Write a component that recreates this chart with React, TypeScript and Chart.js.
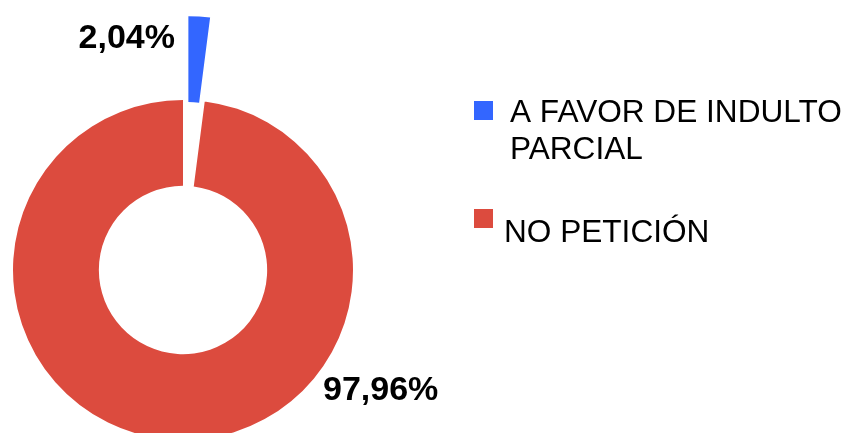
import React, { useEffect, useRef } from "react";
import { Chart, registerables } from "chart.js";

Chart.register(...registerables);

const categories: string[][] = [["A FAVOR DE INDULTO", "PARCIAL"], ["NO PETICIÓN"]];
const values: number[] = [2.04, 97.96];
const colors: string[] = ["#3366FF", "#DC4B3E"];
const explode: number[] = [84, 0];

const FONT = '"Liberation Sans", Arial, Helvetica, sans-serif';

const fmtPct = (v: number, total: number) =>
  ((v / total) * 100).toFixed(2).replace(".", ",") + "%";

// Pull exploded slices outward along their mid angle (pure translation, keeps slice width)
const explodePlugin = {
  id: "explode",
  afterUpdate(chart: any) {
    const meta = chart.getDatasetMeta(0);
    meta.data.forEach((arc: any, i: number) => {
      const d = explode[i] || 0;
      if (!d) return;
      const mid = (arc.startAngle + arc.endAngle) / 2;
      arc.x += Math.cos(mid) * d;
      arc.y += Math.sin(mid) * d;
    });
  },
};

const overlayPlugin = {
  id: "overlay",
  afterDraw(chart: any) {
    const ctx = chart.ctx as CanvasRenderingContext2D;
    const meta = chart.getDatasetMeta(0);
    const total = values.reduce((a, b) => a + b, 0);
    const base = meta.data[1];
    const cx = base.x;
    const cy = base.y;
    ctx.save();
    ctx.fillStyle = "#000";
    ctx.font = `bold 34px ${FONT}`;
    ctx.textBaseline = "alphabetic";
    ctx.textAlign = "right";
    ctx.fillText(fmtPct(values[0], total), cx - 8, cy - 222);
    ctx.textAlign = "left";
    ctx.fillText(fmtPct(values[1], total), cx + 140, cy + 130);

    // legend
    ctx.font = `31.6px ${FONT}`;
    ctx.textAlign = "left";
    ctx.fillStyle = colors[0];
    ctx.fillRect(474, 101, 19, 19);
    ctx.fillStyle = "#000";
    ctx.fillText(categories[0][0], 510, 122);
    ctx.fillText(categories[0][1], 510, 159);
    ctx.fillStyle = colors[1];
    ctx.fillRect(474, 209, 19, 19);
    ctx.fillStyle = "#000";
    ctx.fillText(categories[1][0], 504, 242);
    ctx.restore();
  },
};

export default function App() {
  const ref = useRef<HTMLCanvasElement | null>(null);
  useEffect(() => {
    if (!ref.current) return;
    const chart = new Chart(ref.current, {
      type: "doughnut",
      data: {
        labels: categories.map((c) => c.join(" ")),
        datasets: [
          {
            data: values,
            backgroundColor: colors,
            borderWidth: 0,
            clip: false as any,
          } as any,
        ],
      },
      options: {
        responsive: false,
        animation: false,
        devicePixelRatio: 1,
        events: [],
        radius: 170,
        cutout: "49.5%",
        layout: { padding: { left: 0, right: 489, top: 107, bottom: 0 } },
        plugins: {
          legend: { display: false },
          tooltip: { enabled: false },
        },
      } as any,
      plugins: [explodePlugin, overlayPlugin],
    });
    return () => chart.destroy();
  }, []);
  return (
    <div style={{ position: "absolute", left: 0, top: 0, width: 855, height: 433, background: "#fff" }}>
      <canvas ref={ref} width={855} height={433} style={{ display: "block" }} />
    </div>
  );
}
